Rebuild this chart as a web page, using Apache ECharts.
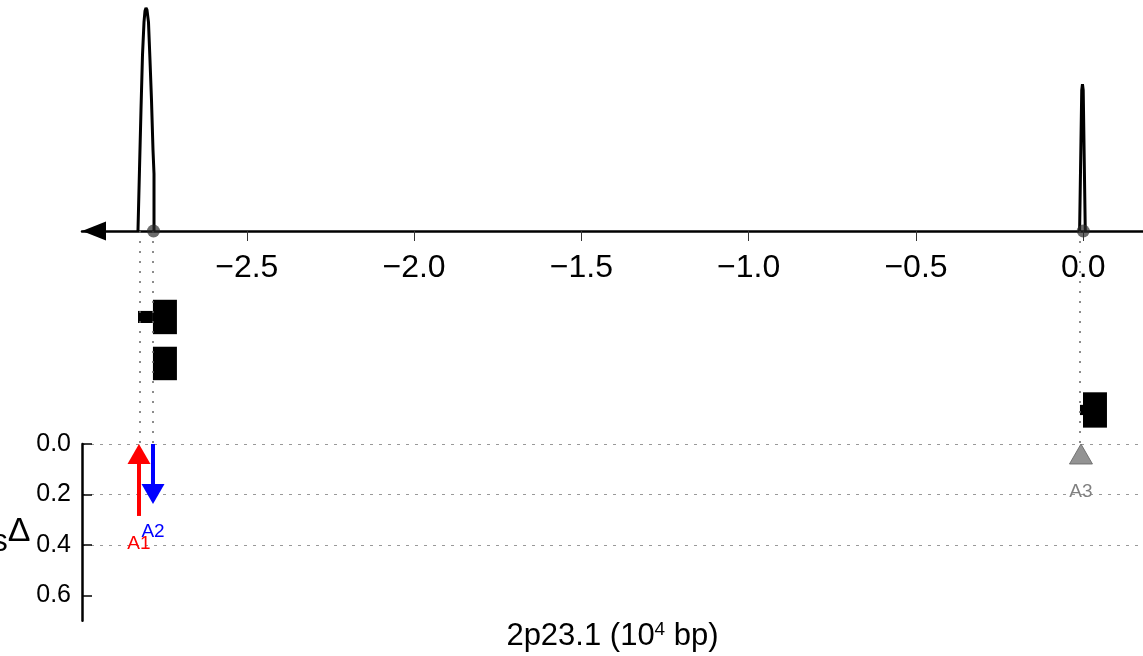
<!DOCTYPE html>
<html><head><meta charset="utf-8">
<script src="https://cdn.jsdelivr.net/npm/echarts@6/dist/echarts.min.js"></script>
<style>html,body{margin:0;padding:0;background:#fff}#c{width:1143px;height:656px}</style>
</head><body><div id="c"></div>
<script>
// ---- data ----
const xTickValues = [-2.5, -2.0, -1.5, -1.0, -0.5, 0.0];
const yTickValues = [0.0, 0.2, 0.4, 0.6];
const peak1X = [-2.8252, -2.8207, -2.8162, -2.8117, -2.8072, -2.8042, -2.8013, -2.7983, -2.7938, -2.7893, -2.7848, -2.7803, -2.7773, -2.7773];
const peak1Y = [0, 0.274, 0.543, 0.789, 0.937, 0.987, 1.0, 0.991, 0.937, 0.767, 0.587, 0.363, 0.256, 0];
const peak2X = [-0.0110, -0.0046, -0.0024, -0.0002, 0.0060];
const peak2Y = [0, 0.632, 0.659, 0.632, 0];
const leadX = [-2.7788, 0.0];
const geneSegStart  = [-2.8252, -2.7805, -2.7805, -0.0099, -0.0009];
const geneSegEnd    = [-2.7805, -2.7088, -2.7088, -0.0009, 0.0708];
const geneSegTrack  = [0, 0, 1, 2, 2];
const geneSegHeight = [0.26, 0.74, 0.72, 0.22, 0.76];
const variantNames = ['A1', 'A2', 'A3'];
const variantPos   = [-2.8222, -2.7803, -0.0069];
const variantDelta = [0.285, 0.238, 0.05];
const variantDir   = ['up', 'down', 'up'];
const variantColor = ['#ff0000', '#0000ff', '#808080'];

const xMin = -2.9925, xMax = 0.1785;
const FONT = 'Liberation Sans, Arial, Helvetica, sans-serif';

const zip = (a, b) => a.map((v, i) => [v, b[i]]);
const fmtMinus = v => (v < 0 ? '\u2212' + Math.abs(v).toFixed(1) : v.toFixed(1));

const chart = echarts.init(document.getElementById('c'), null, {renderer: 'canvas'});

const gridBase = {left: 82, right: 0, containLabel: false, outerBoundsMode: 'none'};
const option = {
  backgroundColor: '#fff',
  animation: false,
  grid: [
    Object.assign({top: 0, height: 231}, gridBase),
    Object.assign({top: 231, height: 213}, gridBase),
    Object.assign({top: 444, height: 176.75}, gridBase)
  ],
  xAxis: [
    {gridIndex: 0, type: 'value', min: xMin, max: xMax, position: 'bottom',
     axisLine: {show: true, onZero: false, symbol: ['triangle', 'none'], symbolSize: [19, 24], symbolOffset: [12, 0],
                lineStyle: {color: '#000', width: 2.5}},
     axisTick: {show: true, customValues: xTickValues, length: 10, lineStyle: {color: '#333', width: 1}},
     axisLabel: {customValues: xTickValues, formatter: fmtMinus, fontSize: 32, color: '#000', margin: 21, fontFamily: FONT},
     splitLine: {show: false}},
    {gridIndex: 1, type: 'value', min: xMin, max: xMax, show: false},
    {gridIndex: 2, type: 'value', min: xMin, max: xMax,
     axisLine: {show: false, onZero: false}, axisTick: {show: false}, axisLabel: {show: false}, splitLine: {show: false},
     name: '{a|2p23.1 (10}{s|4}{a| bp)}', nameLocation: 'middle', nameGap: 0,
     nameTextStyle: {rich: {a: {fontSize: 31, fontFamily: FONT, color: '#000', lineHeight: 32},
                            s: {fontSize: 19, fontFamily: FONT, color: '#000', verticalAlign: 'top', lineHeight: 22}}}}
  ],
  yAxis: [
    {gridIndex: 0, type: 'value', min: 0, max: 1.036, show: false},
    {gridIndex: 1, type: 'value', min: -1.849, max: 2.732, inverse: true, show: false},
    {gridIndex: 2, type: 'value', min: 0, max: 0.7, inverse: true,
     axisLine: {show: true, onZero: false, lineStyle: {color: '#000', width: 2.5}},
     axisTick: {show: true, inside: true, length: 10, customValues: yTickValues, lineStyle: {color: '#000', width: 1.5}},
     axisLabel: {customValues: yTickValues, formatter: v => v.toFixed(1), fontSize: 25, color: '#000', margin: 11, fontFamily: FONT},
     splitLine: {show: true, showMaxLine: false, lineStyle: {type: [3, 6], color: '#999', width: 1}},
     name: '{s|s}{d|\u0394}', nameLocation: 'middle', nameRotate: 0, nameGap: 50,
     nameTextStyle: {padding: [20, 0, 0, 0],
       rich: {s: {fontSize: 31, fontFamily: FONT, color: '#000', lineHeight: 56},
              d: {fontSize: 34, fontFamily: FONT, color: '#000', verticalAlign: 'top', lineHeight: 34}}}}
  ],
  series: [
    {type: 'line', xAxisIndex: 0, yAxisIndex: 0, data: zip(peak1X, peak1Y), showSymbol: false, symbol: 'none',
     lineStyle: {color: '#000', width: 3}, clip: false, z: 3},
    {type: 'line', xAxisIndex: 0, yAxisIndex: 0, data: zip(peak2X, peak2Y), showSymbol: false, symbol: 'none',
     lineStyle: {color: '#000', width: 3}, clip: false, z: 3},
    {type: 'scatter', xAxisIndex: 0, yAxisIndex: 0, data: leadX.map(x => [x, 0]), symbolSize: 13, clip: false,
     itemStyle: {color: 'rgba(40,40,40,0.85)'}, z: 5},
    {type: 'custom', xAxisIndex: 1, yAxisIndex: 1,
     data: geneSegStart.map((s, i) => [s, geneSegEnd[i], geneSegTrack[i], geneSegHeight[i]]),
     renderItem: (params, api) => {
       const p0 = api.coord([api.value(0), api.value(2)]);
       const p1 = api.coord([api.value(1), api.value(2)]);
       const h = api.size([0, api.value(3)])[1];
       return {type: 'rect', shape: {x: p0[0], y: p0[1] - h / 2, width: p1[0] - p0[0], height: h},
               style: {fill: '#000'}};
     },
     markLine: {silent: true, symbol: 'none', label: {show: false},
                lineStyle: {type: [2, 8], color: '#666', width: 1.5},
                data: variantPos.map(x => ({xAxis: x}))}},
    {type: 'custom', xAxisIndex: 2, yAxisIndex: 2, clip: false,
     data: variantPos.map((x, i) => [x, variantDelta[i]]),
     renderItem: (params, api) => {
       const i = params.dataIndex;
       const base = api.coord([api.value(0), 0]);
       const end = api.coord([api.value(0), api.value(1)]);
       const x = base[0], y0 = base[1], y1 = end[1];
       const hl = 20, hw = 11.5;
       const col = variantColor[i];
       const children = [];
       let bottom;
       if (variantDir[i] === 'up') {
         if (y1 > y0 + hl) children.push({type: 'line', shape: {x1: x, y1: y0 + hl, x2: x, y2: y1}, style: {stroke: col, lineWidth: 4}});
         children.push({type: 'polygon', shape: {points: [[x, y0], [x - hw, y0 + hl], [x + hw, y0 + hl]]},
                        style: {fill: col, opacity: i === 2 ? 0.85 : 1, stroke: i === 2 ? '#666' : null, lineWidth: 1}});
         bottom = Math.max(y1, y0 + hl);
       } else {
         children.push({type: 'line', shape: {x1: x, y1: y0, x2: x, y2: y1 - hl}, style: {stroke: col, lineWidth: 4}});
         children.push({type: 'polygon', shape: {points: [[x, y1], [x - hw, y1 - hl], [x + hw, y1 - hl]]}, style: {fill: col}});
         bottom = y1;
       }
       children.push({type: 'text', style: {text: variantNames[i], x: x, y: bottom + 28, fill: col,
                      fontSize: 19, fontFamily: FONT, align: 'center', verticalAlign: 'middle'}});
       return {type: 'group', children: children};
     }}
  ]
};
chart.setOption(option);
</script>
</body></html>
